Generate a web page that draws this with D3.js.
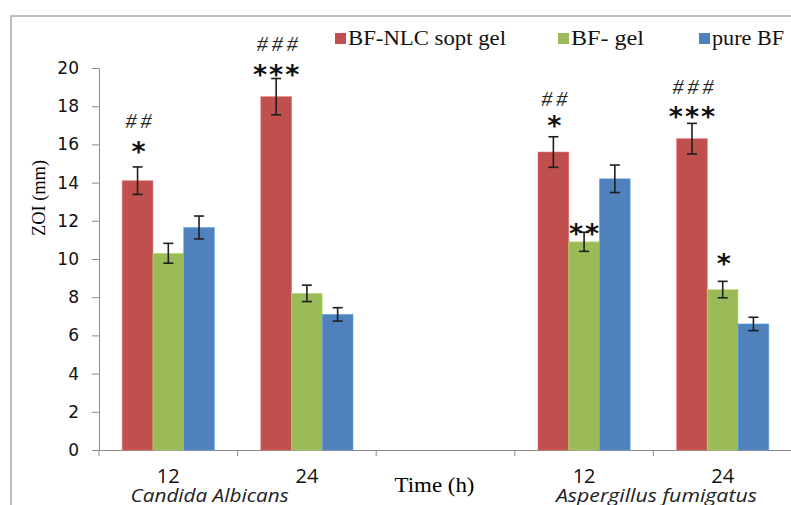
<!DOCTYPE html>
<html>
<head>
<meta charset="utf-8">
<script src="https://cdn.jsdelivr.net/npm/d3@7"></script>
<style>
  body { margin: 0; background: #fff; }
  svg { display: block; }
</style>
</head>
<body>
<svg id="chart"></svg>
<script>
// data
const groups = ["ca12", "ca24", "gap", "af12", "af24"];
const groupLabels = ["12", "24", "", "12", "24"];
const seriesNames = ["BF-NLC sopt gel", "BF- gel", "pure BF"];
const nlcGel = [14.1, 18.5, null, 15.6, 16.3];
const bfGel = [10.3, 8.2, null, 10.9, 8.4];
const pureBF = [11.65, 7.1, null, 14.2, 6.6];
const nlcErr = [0.72, 0.95, null, 0.8, 0.8];
const bfErr = [0.52, 0.43, null, 0.5, 0.43];
const pureErr = [0.6, 0.35, null, 0.72, 0.35];
const yTicks = [0, 2, 4, 6, 8, 10, 12, 14, 16, 18, 20];
const organisms = ["Candida Albicans", "Aspergillus fumigatus"];
const xTitle = "Time (h)";
const yTitle = "ZOI (mm)";
// significance marks: group, series, stars, hashes
const starGroup = ["ca12", "ca24", "af12", "af24", "af12", "af24"];
const starSeries = [0, 0, 0, 0, 1, 1];
const starText = ["*", "***", "*", "***", "**", "*"];
const hashText = ["##", "###", "##", "###", "", ""];

const colors = ["#C0504D", "#9BBB59", "#4F81BD"];
const values = [nlcGel, bfGel, pureBF];
const errors = [nlcErr, bfErr, pureErr];

const serif = "'Liberation Serif', 'Times New Roman', 'DejaVu Serif', serif";
const sans = "'Open Sans', 'DejaVu Sans', sans-serif";

const W = 791, H = 505;
const margin = { top: 68, right: -1, bottom: 55, left: 99 };

const svg = d3.select("#chart").attr("width", W).attr("height", H);

// outer frame (runs off the right and bottom edges)
svg.append("rect")
    .attr("x", 11).attr("y", 16)
    .attr("width", 800).attr("height", 500)
    .attr("fill", "none")
    .attr("stroke", "#bdbdbd")
    .attr("stroke-width", 2);

const x = d3.scaleBand()
    .domain(groups)
    .range([margin.left, W - margin.right]);

const xs = d3.scaleBand()
    .domain(d3.range(seriesNames.length))
    .range([0, x.bandwidth()])
    .paddingOuter(0.755);

const y = d3.scaleLinear()
    .domain([0, 20])
    .range([H - margin.bottom, margin.top]);

// y axis
const yAxis = svg.append("g")
    .attr("transform", "translate(" + margin.left + ",0)")
    .call(d3.axisLeft(y).tickValues(yTicks).tickSize(7).tickPadding(13).tickSizeOuter(0));
yAxis.selectAll("path, line").attr("stroke", "#8c8c8c");
yAxis.selectAll("text")
    .attr("font-family", "'DejaVu Sans', sans-serif")
    .attr("font-size", 17)
    .attr("fill", "#111");

// x axis, ticks sit on the group boundaries
const xAxis = svg.append("g")
    .attr("transform", "translate(0," + y(0) + ")")
    .call(d3.axisBottom(x).tickSize(6).tickSizeOuter(0).tickFormat(""));
xAxis.selectAll(".tick line").attr("transform", "translate(" + (-x.bandwidth() / 2) + ",0)");
xAxis.selectAll("path, line").attr("stroke", "#8c8c8c");

svg.append("g").selectAll("text")
    .data(groups)
    .join("text")
    .attr("x", d => x(d) + x.bandwidth() / 2)
    .attr("y", 483)
    .attr("text-anchor", "middle")
    .attr("font-family", sans)
    .attr("font-size", 20)
    .attr("fill", "#111")
    .text((d, i) => groupLabels[i]);

svg.append("text")
    .attr("x", x("gap") + x.bandwidth() / 2 - 11)
    .attr("y", 492)
    .attr("text-anchor", "middle")
    .attr("font-family", serif)
    .attr("font-size", 20)
    .attr("textLength", 80)
    .attr("lengthAdjust", "spacingAndGlyphs")
    .text(xTitle);

const orgX = [
    (x("ca12") + x("ca24") + x.bandwidth()) / 2 - 28,
    (x("af12") + x("af24") + x.bandwidth()) / 2 + 3
];
const orgLen = [158, 201];
svg.append("g").selectAll("text")
    .data(organisms)
    .join("text")
    .attr("x", (d, i) => orgX[i])
    .attr("y", 502)
    .attr("text-anchor", "middle")
    .attr("font-family", sans)
    .attr("font-style", "italic")
    .attr("font-size", 18)
    .attr("fill", "#222")
    .attr("textLength", (d, i) => orgLen[i])
    .attr("lengthAdjust", "spacingAndGlyphs")
    .text(d => d);

svg.append("text")
    .attr("transform", "translate(45,198) rotate(-90)")
    .attr("text-anchor", "middle")
    .attr("font-family", serif)
    .attr("font-size", 19)
    .attr("textLength", 76)
    .attr("lengthAdjust", "spacingAndGlyphs")
    .text(yTitle);

// bars
const rows = [];
values.forEach((vals, s) => {
    vals.forEach((v, g) => {
        if (v != null) rows.push({ s: s, g: groups[g], v: v, e: errors[s][g] });
    });
});

svg.append("g").selectAll("rect")
    .data(rows)
    .join("rect")
    .attr("x", d => x(d.g) + xs(d.s))
    .attr("y", d => y(d.v))
    .attr("width", xs.bandwidth())
    .attr("height", d => y(0) - y(d.v))
    .attr("fill", d => colors[d.s])
    .attr("stroke", d => d3.color(colors[d.s]).brighter(0.6))
    .attr("stroke-opacity", 0.5)
    .attr("stroke-width", 1);

// error bars
const capW = 10;
const eb = svg.append("g")
    .attr("stroke", "#1e1e1e")
    .attr("stroke-width", 1.6);
rows.forEach(d => {
    const cx = x(d.g) + xs(d.s) + xs.bandwidth() / 2;
    eb.append("line")
        .attr("x1", cx).attr("x2", cx)
        .attr("y1", y(d.v + d.e)).attr("y2", y(d.v - d.e));
    [d.v + d.e, d.v - d.e].forEach(t => {
        eb.append("line")
            .attr("x1", cx - capW / 2).attr("x2", cx + capW / 2)
            .attr("y1", y(t)).attr("y2", y(t));
    });
});

// significance marks
const starLift = [21, 10, 17, 12, 4, 23];
const hashLift = [47, 36, 39, 37, 0, 0];
starGroup.forEach((g, i) => {
    const s = starSeries[i];
    const gi = groups.indexOf(g);
    const top = y(values[s][gi] + errors[s][gi]);
    const cx = x(g) + xs(s) + xs.bandwidth() / 2;
    svg.append("text")
        .attr("x", cx + 1)
        .attr("y", top - starLift[i] + 15)
        .attr("text-anchor", "middle")
        .attr("font-family", "'DejaVu Sans', sans-serif")
        .attr("font-weight", "bold")
        .attr("font-size", 27)
        .attr("letter-spacing", starText[i].length > 1 ? 2 : 0)
        .attr("fill", "#111")
        .text(starText[i]);
    if (hashText[i]) {
        svg.append("text")
            .attr("x", cx + 3)
            .attr("y", top - hashLift[i] + 8)
            .attr("text-anchor", "middle")
            .attr("font-family", serif)
            .attr("font-style", "italic")
            .attr("font-size", 22)
            .attr("letter-spacing", 4)
            .attr("fill", "#222")
            .text(hashText[i]);
    }
});

// legend
const legendX = [335, 558, 699];
const legendLen = [158, 73, 72];
const legend = svg.append("g").selectAll("g")
    .data(seriesNames)
    .join("g")
    .attr("transform", (d, i) => "translate(" + legendX[i] + ",33)");
legend.append("rect")
    .attr("width", 11).attr("height", 11)
    .attr("fill", (d, i) => colors[i]);
legend.append("text")
    .attr("x", 13)
    .attr("y", 12)
    .attr("font-family", serif)
    .attr("font-size", 20)
    .attr("textLength", (d, i) => legendLen[i])
    .attr("lengthAdjust", "spacingAndGlyphs")
    .attr("fill", "#111")
    .text(d => d);
</script>
</body>
</html>
